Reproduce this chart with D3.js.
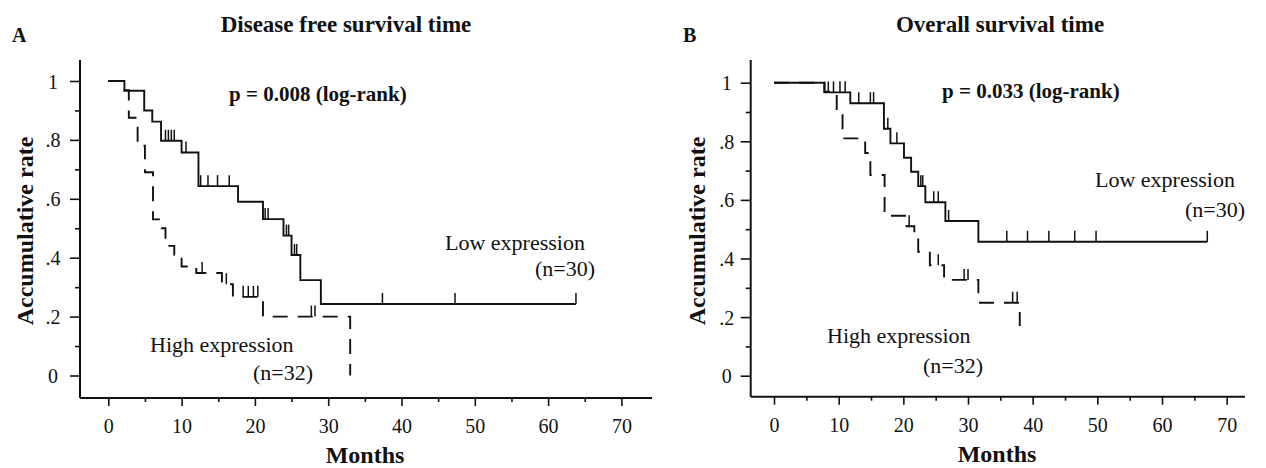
<!DOCTYPE html>
<html>
<head>
<meta charset="utf-8">
<script src="https://cdn.jsdelivr.net/npm/d3@7"></script>
<style>
body { margin: 0; background: #fff; }
svg text { font-family: "Liberation Serif", "Times New Roman", serif; fill: #111; }
</style>
</head>
<body>
<svg id="chart" width="1266" height="468"></svg>
<script>
// Kaplan-Meier steps: time (months) and survival after each drop

// A - disease free survival
const lowA_time = [0, 2.2, 4.9, 6.0, 7.2, 10.0, 12.3, 17.7, 21.1, 23.9, 25.0, 26.2, 29.0];
const lowA_surv = [1, 0.967, 0.90, 0.862, 0.797, 0.757, 0.643, 0.590, 0.531, 0.475, 0.409, 0.324, 0.243];
const lowA_end = 63.8;
const lowA_censor = [7.8, 8.2, 8.6, 9.0, 10.6, 12.6, 13.6, 14.9, 16.5, 21.4, 21.8, 24.3, 24.6, 25.4, 25.7, 37.4, 47.3, 63.8];

const highA_time = [0, 2.2, 2.8, 4.0, 5.0, 6.1, 7.3, 7.8, 9.0, 10.0, 12.0, 15.5, 17.0, 21.1, 33.0];
const highA_surv = [1, 0.969, 0.875, 0.78, 0.69, 0.53, 0.50, 0.44, 0.41, 0.37, 0.348, 0.31, 0.267, 0.2, 0];
const highA_end = 33.0;
const highA_censor = [12.8, 16.1, 18.4, 19.1, 19.8, 20.4, 27.7, 28.2];

// B - overall survival
const lowB_time = [0, 7.8, 11.8, 17.0, 18.0, 20.1, 21.2, 22.3, 23.4, 26.5, 31.6];
const lowB_surv = [1, 0.967, 0.93, 0.843, 0.793, 0.744, 0.696, 0.647, 0.592, 0.528, 0.457];
const lowB_end = 67.0;
const lowB_censor = [8.4, 9.2, 10.2, 11.0, 13.1, 14.9, 15.4, 17.6, 19.0, 22.7, 23.0, 24.7, 25.4, 27.0, 36.0, 39.2, 42.5, 46.5, 49.8, 67.0];

const highB_time = [0, 7.8, 9.7, 10.6, 14.1, 14.9, 17.1, 20.5, 21.7, 22.3, 24.1, 26.3, 31.6, 38.0];
const highB_surv = [1, 0.969, 0.91, 0.81, 0.76, 0.685, 0.546, 0.51, 0.47, 0.423, 0.377, 0.327, 0.249, 0.17];
const highB_end = 38.0;
const highB_censor = [20.9, 25.4, 29.4, 30.0, 36.9, 37.6];

// axis ticks
const xMajor = [0, 10, 20, 30, 40, 50, 60, 70];
const xMinor = [5, 15, 25, 35, 45, 55, 65];
const yMajor = [0, 0.2, 0.4, 0.6, 0.8, 1];
const yMinor = [0.1, 0.3, 0.5, 0.7, 0.9];
const yLabels = ["0", ".2", ".4", ".6", ".8", "1"];

const svg = d3.select("#chart");

function survAt(times, survs, t) {
	let s = survs[0];
	for (let i = 0; i < times.length; i++) {
		if (times[i] <= t) s = survs[i];
	}
	return s;
}

function drawPanel(p) {
	const g = svg.append("g");
	const x = d3.scaleLinear().domain([0, 70]).range(p.xRange);
	const y = d3.scaleLinear().domain([0, 1]).range(p.yRange);

	// axis lines (offset from the data area, like the original)
	g.append("line")
		.attr("x1", p.axisX).attr("x2", p.axisX)
		.attr("y1", p.axisTop).attr("y2", p.axisY)
		.attr("stroke", "#111").attr("stroke-width", 2);
	g.append("line")
		.attr("x1", p.axisX).attr("x2", p.axisRight)
		.attr("y1", p.axisY).attr("y2", p.axisY)
		.attr("stroke", "#111").attr("stroke-width", 2);

	// y ticks
	const yAxis = g.append("g")
		.attr("transform", "translate(" + p.axisX + ",0)")
		.call(d3.axisLeft(y).tickValues(yMajor).tickSize(10).tickSizeOuter(0)
			.tickFormat((d, i) => yLabels[i]));
	yAxis.select(".domain").remove();
	yAxis.selectAll("line").attr("stroke", "#111").attr("stroke-width", 1.6);
	yAxis.selectAll("text")
		.attr("x", p.yLabelOffset).attr("dy", "0.35em")
		.attr("text-anchor", "middle")
		.style("font-size", "20px").style("font-family", "Liberation Serif").attr("fill", "#111");

	const yMin = g.append("g")
		.attr("transform", "translate(" + p.axisX + ",0)")
		.call(d3.axisLeft(y).tickValues(yMinor).tickSize(5).tickSizeOuter(0).tickFormat(""));
	yMin.select(".domain").remove();
	yMin.selectAll("line").attr("stroke", "#111").attr("stroke-width", 1.6);

	// x ticks
	const xAxis = g.append("g")
		.attr("transform", "translate(0," + p.axisY + ")")
		.call(d3.axisBottom(x).tickValues(xMajor).tickSize(8).tickSizeOuter(0));
	xAxis.select(".domain").remove();
	xAxis.selectAll("line").attr("stroke", "#111").attr("stroke-width", 1.6);
	xAxis.selectAll("text")
		.attr("y", 35).attr("dy", 0)
		.style("font-size", "20px").style("font-family", "Liberation Serif").attr("fill", "#111");

	const xMin = g.append("g")
		.attr("transform", "translate(0," + p.axisY + ")")
		.call(d3.axisBottom(x).tickValues(xMinor).tickSize(4).tickSizeOuter(0).tickFormat(""));
	xMin.select(".domain").remove();
	xMin.selectAll("line").attr("stroke", "#111").attr("stroke-width", 1.6);

	// survival curves
	const line = d3.line()
		.x(d => x(d[0]))
		.y(d => y(d[1]))
		.curve(d3.curveStepAfter);

	p.curves.forEach(c => {
		const pts = c.time.map((t, i) => [t, c.surv[i]]);
		pts.push([c.end, c.surv[c.surv.length - 1]]);
		g.append("path")
			.datum(pts)
			.attr("d", line)
			.attr("fill", "none")
			.attr("stroke", "#111")
			.attr("stroke-width", 1.9)
			.attr("stroke-dasharray", c.dashed ? "15,10" : null);

		// censor marks
		g.selectAll(null)
			.data(c.censor)
			.enter().append("line")
			.attr("x1", d => x(d)).attr("x2", d => x(d))
			.attr("y1", d => y(survAt(c.time, c.surv, d)))
			.attr("y2", d => y(survAt(c.time, c.surv, d)) - 11)
			.attr("stroke", "#111")
			.attr("stroke-width", 1.5);
	});

	// texts
	g.append("text").attr("x", p.letter[0]).attr("y", p.letter[1])
		.style("font-size", "20px").style("font-weight", "bold").text(p.letterText);
	g.append("text").attr("x", p.title[0]).attr("y", p.title[1])
		.attr("text-anchor", "middle")
		.style("font-size", "23px").style("font-weight", "bold").text(p.titleText);
	g.append("text").attr("x", p.pval[0]).attr("y", p.pval[1])
		.style("font-size", "21px").style("font-weight", "bold").text(p.pvalText);
	g.append("text")
		.attr("transform", "translate(" + p.yTitle[0] + "," + p.yTitle[1] + ") rotate(-90)")
		.attr("text-anchor", "middle")
		.style("font-size", "24px").style("font-weight", "bold").text("Accumulative rate");
	g.append("text").attr("x", p.xTitle[0]).attr("y", p.xTitle[1])
		.attr("text-anchor", "middle")
		.style("font-size", "24px").style("font-weight", "bold").text("Months");

	g.append("text").attr("x", p.low[0]).attr("y", p.low[1])
		.style("font-size", "22px").text("Low expression");
	g.append("text").attr("x", p.lowN[0]).attr("y", p.lowN[1])
		.attr("text-anchor", "end")
		.style("font-size", "22px").text("(n=30)");
	g.append("text").attr("x", p.high[0]).attr("y", p.high[1])
		.style("font-size", "22px").text("High expression");
	g.append("text").attr("x", p.highN[0]).attr("y", p.highN[1])
		.attr("text-anchor", "end")
		.style("font-size", "22px").text("(n=32)");
}

drawPanel({
	xRange: [108.3, 621.4], yRange: [375.5, 81],
	axisX: 80, axisY: 398, axisTop: 60, axisRight: 652, yLabelOffset: -27,
	curves: [
		{ time: lowA_time, surv: lowA_surv, end: lowA_end, censor: lowA_censor, dashed: false },
		{ time: highA_time, surv: highA_surv, end: highA_end, censor: highA_censor, dashed: true }
	],
	letterText: "A", letter: [12, 42],
	titleText: "Disease free survival time", title: [346, 32],
	pvalText: "p = 0.008 (log-rank)", pval: [229, 101],
	yTitle: [33, 231], xTitle: [365, 463],
	low: [445, 250], lowN: [595, 276],
	high: [150, 352], highN: [313, 380]
});

drawPanel({
	xRange: [774, 1226.7], yRange: [375.7, 82.7],
	axisX: 750.7, axisY: 396.7, axisTop: 60, axisRight: 1245, yLabelOffset: -24,
	curves: [
		{ time: lowB_time, surv: lowB_surv, end: lowB_end, censor: lowB_censor, dashed: false },
		{ time: highB_time, surv: highB_surv, end: highB_end, censor: highB_censor, dashed: true }
	],
	letterText: "B", letter: [683, 42],
	titleText: "Overall survival time", title: [1000, 32],
	pvalText: "p = 0.033 (log-rank)", pval: [942, 98],
	yTitle: [705, 231], xTitle: [997, 462],
	low: [1095, 187], lowN: [1245, 217],
	high: [827, 343], highN: [983, 373]
});
</script>
</body>
</html>
